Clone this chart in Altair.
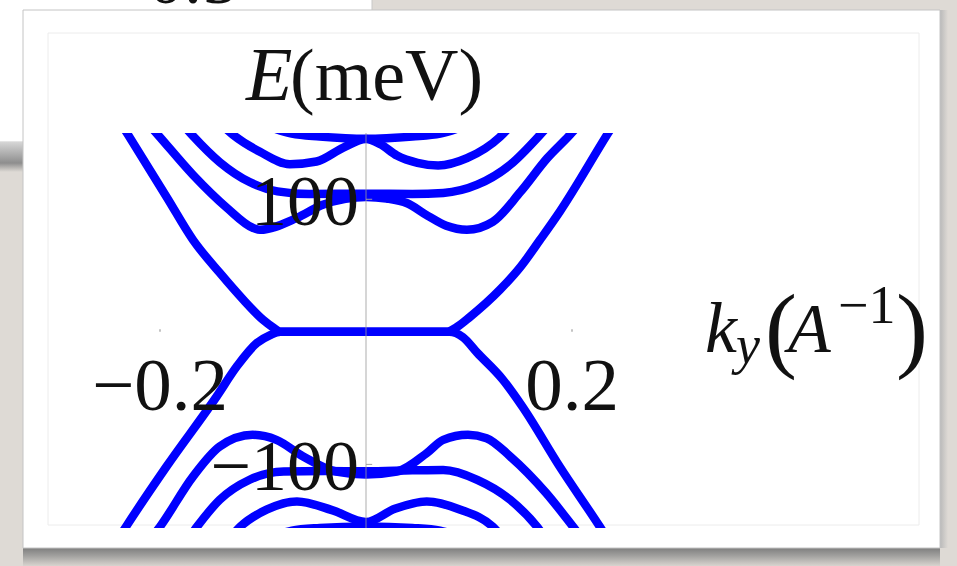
import altair as alt
import pandas as pd

# ---------------- band structure E(k_y) ----------------
# conduction bands (meV) versus k_y (1/Angstrom)
c1_k = [-0.245, -0.231, -0.193, -0.168, -0.142, -0.119, -0.100, -0.090, -0.083,
        -0.05, 0.0, 0.05, 0.079, 0.088, 0.101, 0.130, 0.150, 0.169, 0.188, 0.234, 0.248]
c1_E = [166, 148.6, 101, 69.4, 44.5, 24.1, 9.1, 3.2, 0,
        0, 0, 0, 0, 3.5, 11.3, 31.7, 49, 69.4, 90.5, 148.6, 166]

c2_k = [-0.215, -0.202, -0.168, -0.135, -0.110, -0.103, -0.067, -0.042, -0.020, 0.0,
        0.020, 0.040, 0.060, 0.078, 0.098, 0.123, 0.150, 0.176, 0.198, 0.211]
c2_E = [160, 148.6, 118.4, 93.5, 78.5, 77, 86, 95.8, 100.3, 101.8,
        100.6, 97, 87.5, 80, 77, 83, 105.6, 131, 148.6, 160]

c3_k = [-0.182, -0.169, -0.142, -0.113, -0.086, -0.055, 0.0, 0.045, 0.075,
        0.108, 0.140, 0.169, 0.182]
c3_E = [160, 148.6, 128, 113, 106, 104, 104.2, 104, 104.8,
        111, 126, 148.6, 160]

c4_k = [-0.140, -0.129, -0.103, -0.074, -0.048, -0.022, 0.0, 0.014, 0.030,
        0.050, 0.070, 0.098, 0.130, 0.140]
c4_E = [156, 148.6, 135.8, 126.5, 128.5, 139, 145.5, 141.5, 133,
        127.5, 125.5, 131, 147, 155]

c5_k = [-0.095, -0.072, -0.045, -0.020, 0.0, 0.020, 0.045, 0.072, 0.095]
c5_E = [155, 149.5, 147.3, 146, 145.6, 146, 147.3, 149.5, 155]

# valence bands
v1_k = [-0.247, -0.233, -0.194, -0.145, -0.1255, -0.106, -0.093, -0.083,
        -0.05, 0.0, 0.05, 0.081, 0.094, 0.108, 0.133, 0.152, 0.188, 0.227, 0.241]
v1_E = [-164, -147, -102, -48.8, -26.2, -8.5, -2.5, 0,
        0, 0, 0, 0, -4, -15.8, -36.2, -56.6, -101.6, -147, -164]

v2_k = [-0.213, -0.200, -0.168, -0.142, -0.110, -0.087, -0.061, -0.029, 0.0,
        0.030, 0.059, 0.075, 0.099, 0.117, 0.140, 0.175, 0.201, 0.214]
v2_E = [-160, -147, -109.2, -86.5, -77.7, -81.5, -94, -105.4, -107.6,
        -105.4, -91.5, -81.5, -77.7, -80.2, -94, -121.7, -147, -160]

v3_k = [-0.176, -0.164, -0.142, -0.113, -0.080, -0.040, 0.0, 0.045, 0.075,
        0.108, 0.140, 0.166, 0.178]
v3_E = [-160, -147, -126.7, -111.6, -105.4, -105, -105.2, -104.5, -104.2,
        -111.6, -126.7, -147, -160]

v4_k = [-0.135, -0.122, -0.096, -0.067, -0.033, 0.0, 0.028, 0.059, 0.091, 0.123, 0.136]
v4_E = [-158, -147, -134, -128, -134.5, -143.5, -133.5, -128, -134, -147, -158]

v5_k = [-0.095, -0.072, -0.045, 0.0, 0.045, 0.072, 0.095]
v5_E = [-156, -150, -148, -146.8, -148, -150, -156]

# axis ticks and their labels
x_ticks = [-0.2, 0.2]
x_tick_labels = ["\u22120.2", "0.2"]
y_ticks = [-100, 100]
y_tick_labels = ["\u2212100", "100"]

# plot range
k_range = [-0.3, 0.3]
E_range = [-148, 150]

# ---------------- layout ----------------
W, H = 957, 566
LEFT, TOP = 57, 133
PW, PH = 618, 395
BLUE = "#0000ff"
INK = "#111111"
SERIF = "Liberation Serif"

bands = [("c1", c1_k, c1_E), ("c2", c2_k, c2_E), ("c3", c3_k, c3_E),
         ("c4", c4_k, c4_E), ("c5", c5_k, c5_E), ("v1", v1_k, v1_E),
         ("v2", v2_k, v2_E), ("v3", v3_k, v3_E), ("v4", v4_k, v4_E),
         ("v5", v5_k, v5_E)]
rows = []
for name, ks, es in bands:
    for i, (k, e) in enumerate(zip(ks, es)):
        rows.append({"band": name, "k": k, "E": e, "i": i})
bands_df = pd.DataFrame(rows)

xs = alt.Scale(domain=k_range, nice=False, zero=False)
ys = alt.Scale(domain=E_range, nice=False, zero=False)
one = pd.DataFrame({"_": [0]})


def px(x):
    return x - LEFT


def py(y):
    return y - TOP


def box(x0, y0, x1, y1, fill, stroke=None, sw=1.0):
    kw = dict(fill=fill, strokeWidth=sw)
    if stroke:
        kw["stroke"] = stroke
    return alt.Chart(one).mark_rect(**kw).encode(
        x=alt.value(px(x0)), x2=alt.value(px(x1)),
        y=alt.value(py(y0)), y2=alt.value(py(y1)))


def vgrad(stops):
    return alt.LinearGradient(
        gradient="linear", x1=0, x2=0, y1=0, y2=1,
        stops=[alt.GradientStop(offset=o, color=c) for o, c in stops])


def hgrad(stops):
    return alt.LinearGradient(
        gradient="linear", x1=0, x2=1, y1=0, y2=0,
        stops=[alt.GradientStop(offset=o, color=c) for o, c in stops])


def label(text, x, y, size, italic=False, align="left"):
    return alt.Chart(one).mark_text(
        text=text, font=SERIF, fontSize=size,
        fontStyle="italic" if italic else "normal",
        align=align, baseline="alphabetic", color=INK,
    ).encode(x=alt.value(px(x)), y=alt.value(py(y)))


# slide decoration: card behind, card in front, shadows
back_card = box(-2, -2, 372, 142, "#ffffff", "#c8c8c8")
back_shadow = box(0, 142, 372, 172, vgrad([(0, "#d6d6d6"), (0.7, "#8e8e8e"), (1, "#dedad5")]))
back_text = label("0.5", 193, 3, 72, align="center")
front_shadow = box(23, 548, 940, 566, vgrad([(0, "#7e7e7e"), (0.45, "#a3a2a0"), (1, "#d8d4cf")]))
right_shadow = box(940, 10, 948, 548, hgrad([(0, "#b9b9b9"), (1, "#dedad5")]))
front_card = box(23, 10, 940, 548, "#ffffff", "#c4c4c4")
inner_frame = box(48, 33, 919, 525, "transparent", "#ececec")

# blue bands
lines = alt.Chart(bands_df).mark_line(
    clip=True, color=BLUE, strokeWidth=8.5, interpolate="monotone",
    strokeCap="butt", strokeJoin="round",
).encode(
    x=alt.X("k:Q", scale=xs, axis=None),
    y=alt.Y("E:Q", scale=ys, axis=None),
    detail="band:N",
    order="i:Q",
)

# vertical axis through k = 0
axis_df = pd.DataFrame({"k": [0.0], "E0": [E_range[0]], "E1": [E_range[1]]})
y_axis = alt.Chart(axis_df).mark_rule(color="#9a9a9a", strokeWidth=1, opacity=0.8).encode(
    x=alt.X("k:Q", scale=xs), y=alt.Y("E0:Q", scale=ys), y2="E1:Q")

xt_df = pd.DataFrame({"k": x_ticks, "lab": x_tick_labels,
                      "E0": [0.0] * len(x_ticks), "E1": [2.0] * len(x_ticks)})
yt_df = pd.DataFrame({"E": y_ticks, "lab": y_tick_labels,
                      "k0": [0.0] * len(y_ticks), "k1": [0.006] * len(y_ticks)})

x_tick_marks = alt.Chart(xt_df).mark_rule(color="#b0b0b0", strokeWidth=1.5).encode(
    x=alt.X("k:Q", scale=xs), y=alt.Y("E0:Q", scale=ys), y2="E1:Q")
y_tick_marks = alt.Chart(yt_df).mark_rule(color="#a0a0a0", strokeWidth=1).encode(
    x=alt.X("k0:Q", scale=xs), x2="k1:Q", y=alt.Y("E:Q", scale=ys))

x_tick_text = alt.Chart(xt_df).mark_text(
    font=SERIF, fontSize=75, color=INK, align="center", baseline="alphabetic", dy=78,
).encode(x=alt.X("k:Q", scale=xs), y=alt.Y("E0:Q", scale=ys), text="lab:N")
y_tick_text = alt.Chart(yt_df).mark_text(
    font=SERIF, fontSize=72, color=INK, align="right", baseline="alphabetic", dx=-7, dy=26,
).encode(x=alt.X("k0:Q", scale=xs), y=alt.Y("E:Q", scale=ys), text="lab:N")

# axis titles: E(meV) on top, k_y(A^-1) at the right end of the k axis
title_E = label("E", 246, 100, 76, italic=True)
title_meV = label("(meV)", 290, 100, 74)
title_k = label("k", 705, 352, 72, italic=True)
title_y = label("y", 736, 363, 54, italic=True)
title_lp = label("(", 765, 360, 96)
title_A = label("A", 788, 352, 70, italic=True)
title_m1 = label("\u22121", 838, 323, 54)
title_rp = label(")", 896, 360, 96)

chart = alt.layer(
    back_card, back_text, back_shadow, front_shadow, right_shadow, front_card, inner_frame,
    lines, y_axis, x_tick_marks, y_tick_marks, x_tick_text, y_tick_text,
    title_E, title_meV, title_k, title_y, title_lp, title_A, title_m1, title_rp,
).properties(
    width=PW, height=PH,
    padding={"left": LEFT, "top": TOP, "right": W - LEFT - PW, "bottom": H - TOP - PH},
    autosize=alt.AutoSizeParams(type="none"),
).configure(background="#dedad5").configure_view(stroke=None)

chart.save("out.html", embed_options={"renderer": "svg", "actions": False})
